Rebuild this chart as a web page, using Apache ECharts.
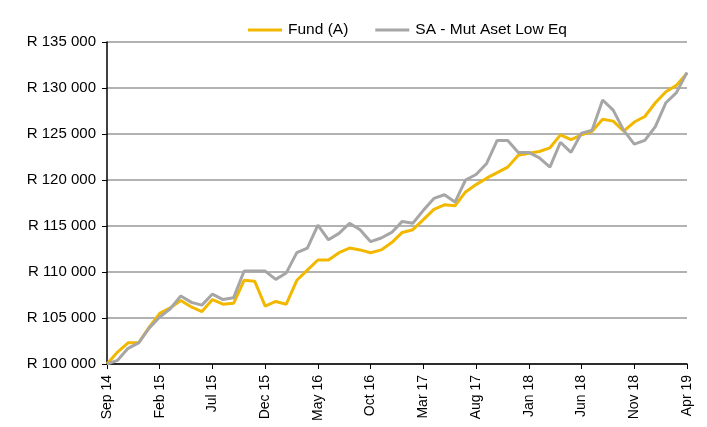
<!DOCTYPE html>
<html>
<head>
<meta charset="utf-8">
<script src="https://cdn.jsdelivr.net/npm/echarts@6/dist/echarts.min.js"></script>
<style>
  html, body { margin: 0; padding: 0; background: #fff; }
  #chart { width: 707px; height: 427px; }
</style>
</head>
<body>
<div id="chart"></div>
<script>
// months Sep 14 .. Apr 19
const months = ['Sep 14', 'Oct 14', 'Nov 14', 'Dec 14',
  'Jan 15', 'Feb 15', 'Mar 15', 'Apr 15', 'May 15', 'Jun 15', 'Jul 15', 'Aug 15', 'Sep 15', 'Oct 15', 'Nov 15', 'Dec 15',
  'Jan 16', 'Feb 16', 'Mar 16', 'Apr 16', 'May 16', 'Jun 16', 'Jul 16', 'Aug 16', 'Sep 16', 'Oct 16', 'Nov 16', 'Dec 16',
  'Jan 17', 'Feb 17', 'Mar 17', 'Apr 17', 'May 17', 'Jun 17', 'Jul 17', 'Aug 17', 'Sep 17', 'Oct 17', 'Nov 17', 'Dec 17',
  'Jan 18', 'Feb 18', 'Mar 18', 'Apr 18', 'May 18', 'Jun 18', 'Jul 18', 'Aug 18', 'Sep 18', 'Oct 18', 'Nov 18', 'Dec 18',
  'Jan 19', 'Feb 19', 'Mar 19', 'Apr 19']

const fundA = [100000, 101300, 102300, 102300, 104000, 105500, 106100, 106900, 106200, 105700,
  107000, 106500, 106600, 109100, 109000, 106300, 106800, 106500, 109100, 110200,
  111300, 111300, 112100, 112600, 112400, 112100, 112400, 113200, 114300, 114600,
  115700, 116800, 117300, 117200, 118700, 119500, 120200, 120800, 121400, 122700,
  122900, 123100, 123500, 124900, 124400, 124900, 125300, 126600, 126400, 125300,
  126300, 126900, 128400, 129600, 130300, 131600]

const saLowEq = [100000, 100400, 101700, 102300, 103900, 105100, 106000, 107400, 106700, 106400,
  107600, 107000, 107200, 110100, 110100, 110100, 109200, 109900, 112100, 112600,
  115100, 113500, 114200, 115300, 114600, 113300, 113700, 114300, 115500, 115300,
  116700, 118000, 118400, 117600, 120000, 120600, 121800, 124300, 124300, 123000,
  123000, 122400, 121400, 124100, 123000, 125100, 125400, 128700, 127600, 125400,
  123900, 124300, 125800, 128400, 129500, 131700]

const chart = echarts.init(document.getElementById('chart'))

function rands(v) {
  // R 135 000
  return 'R ' + String(v).replace(/\B(?=(\d{3})+(?!\d))/g, ' ')
}

const lineSeries = (name, data, color) => ({
  name: name,
  type: 'line',
  data: data,
  symbol: 'none',
  smooth: false,
  lineStyle: { width: 3, color: color },
  itemStyle: { color: color }
})

chart.setOption({
  animation: false,
  textStyle: { fontFamily: 'Liberation Sans, sans-serif' },
  legend: {
    top: 17,
    left: 243,
    itemWidth: 34,
    itemHeight: 3,
    itemGap: 27,
    icon: 'rect',
    textStyle: { fontSize: 15.5, color: '#000', padding: [0, 0, 0, 1] }
  },
  grid: { left: 107, right: 20, top: 42, bottom: 63 },
  xAxis: {
    type: 'category',
    data: months,
    boundaryGap: false,
    axisLine: { lineStyle: { color: '#000', width: 1.5 } },
    axisTick: { interval: 4, length: 5, lineStyle: { color: '#000' } },
    axisLabel: { interval: 4, rotate: 90, fontSize: 14, color: '#000', margin: 11 }
  },
  yAxis: {
    type: 'value',
    min: 100000,
    max: 135000,
    interval: 5000,
    axisLine: { show: true, lineStyle: { color: '#000', width: 1.5 } },
    axisTick: { show: true, length: 5, lineStyle: { color: '#000' } },
    axisLabel: { fontSize: 15, color: '#000', margin: 11, formatter: rands },
    splitLine: { lineStyle: { color: '#999', width: 1.5 } }
  },
  series: [
    lineSeries('Fund (A)', fundA, '#F2B800'),
    lineSeries('SA - Mut Aset Low Eq', saLowEq, '#A6A6A6')
  ]
})
</script>
</body>
</html>
